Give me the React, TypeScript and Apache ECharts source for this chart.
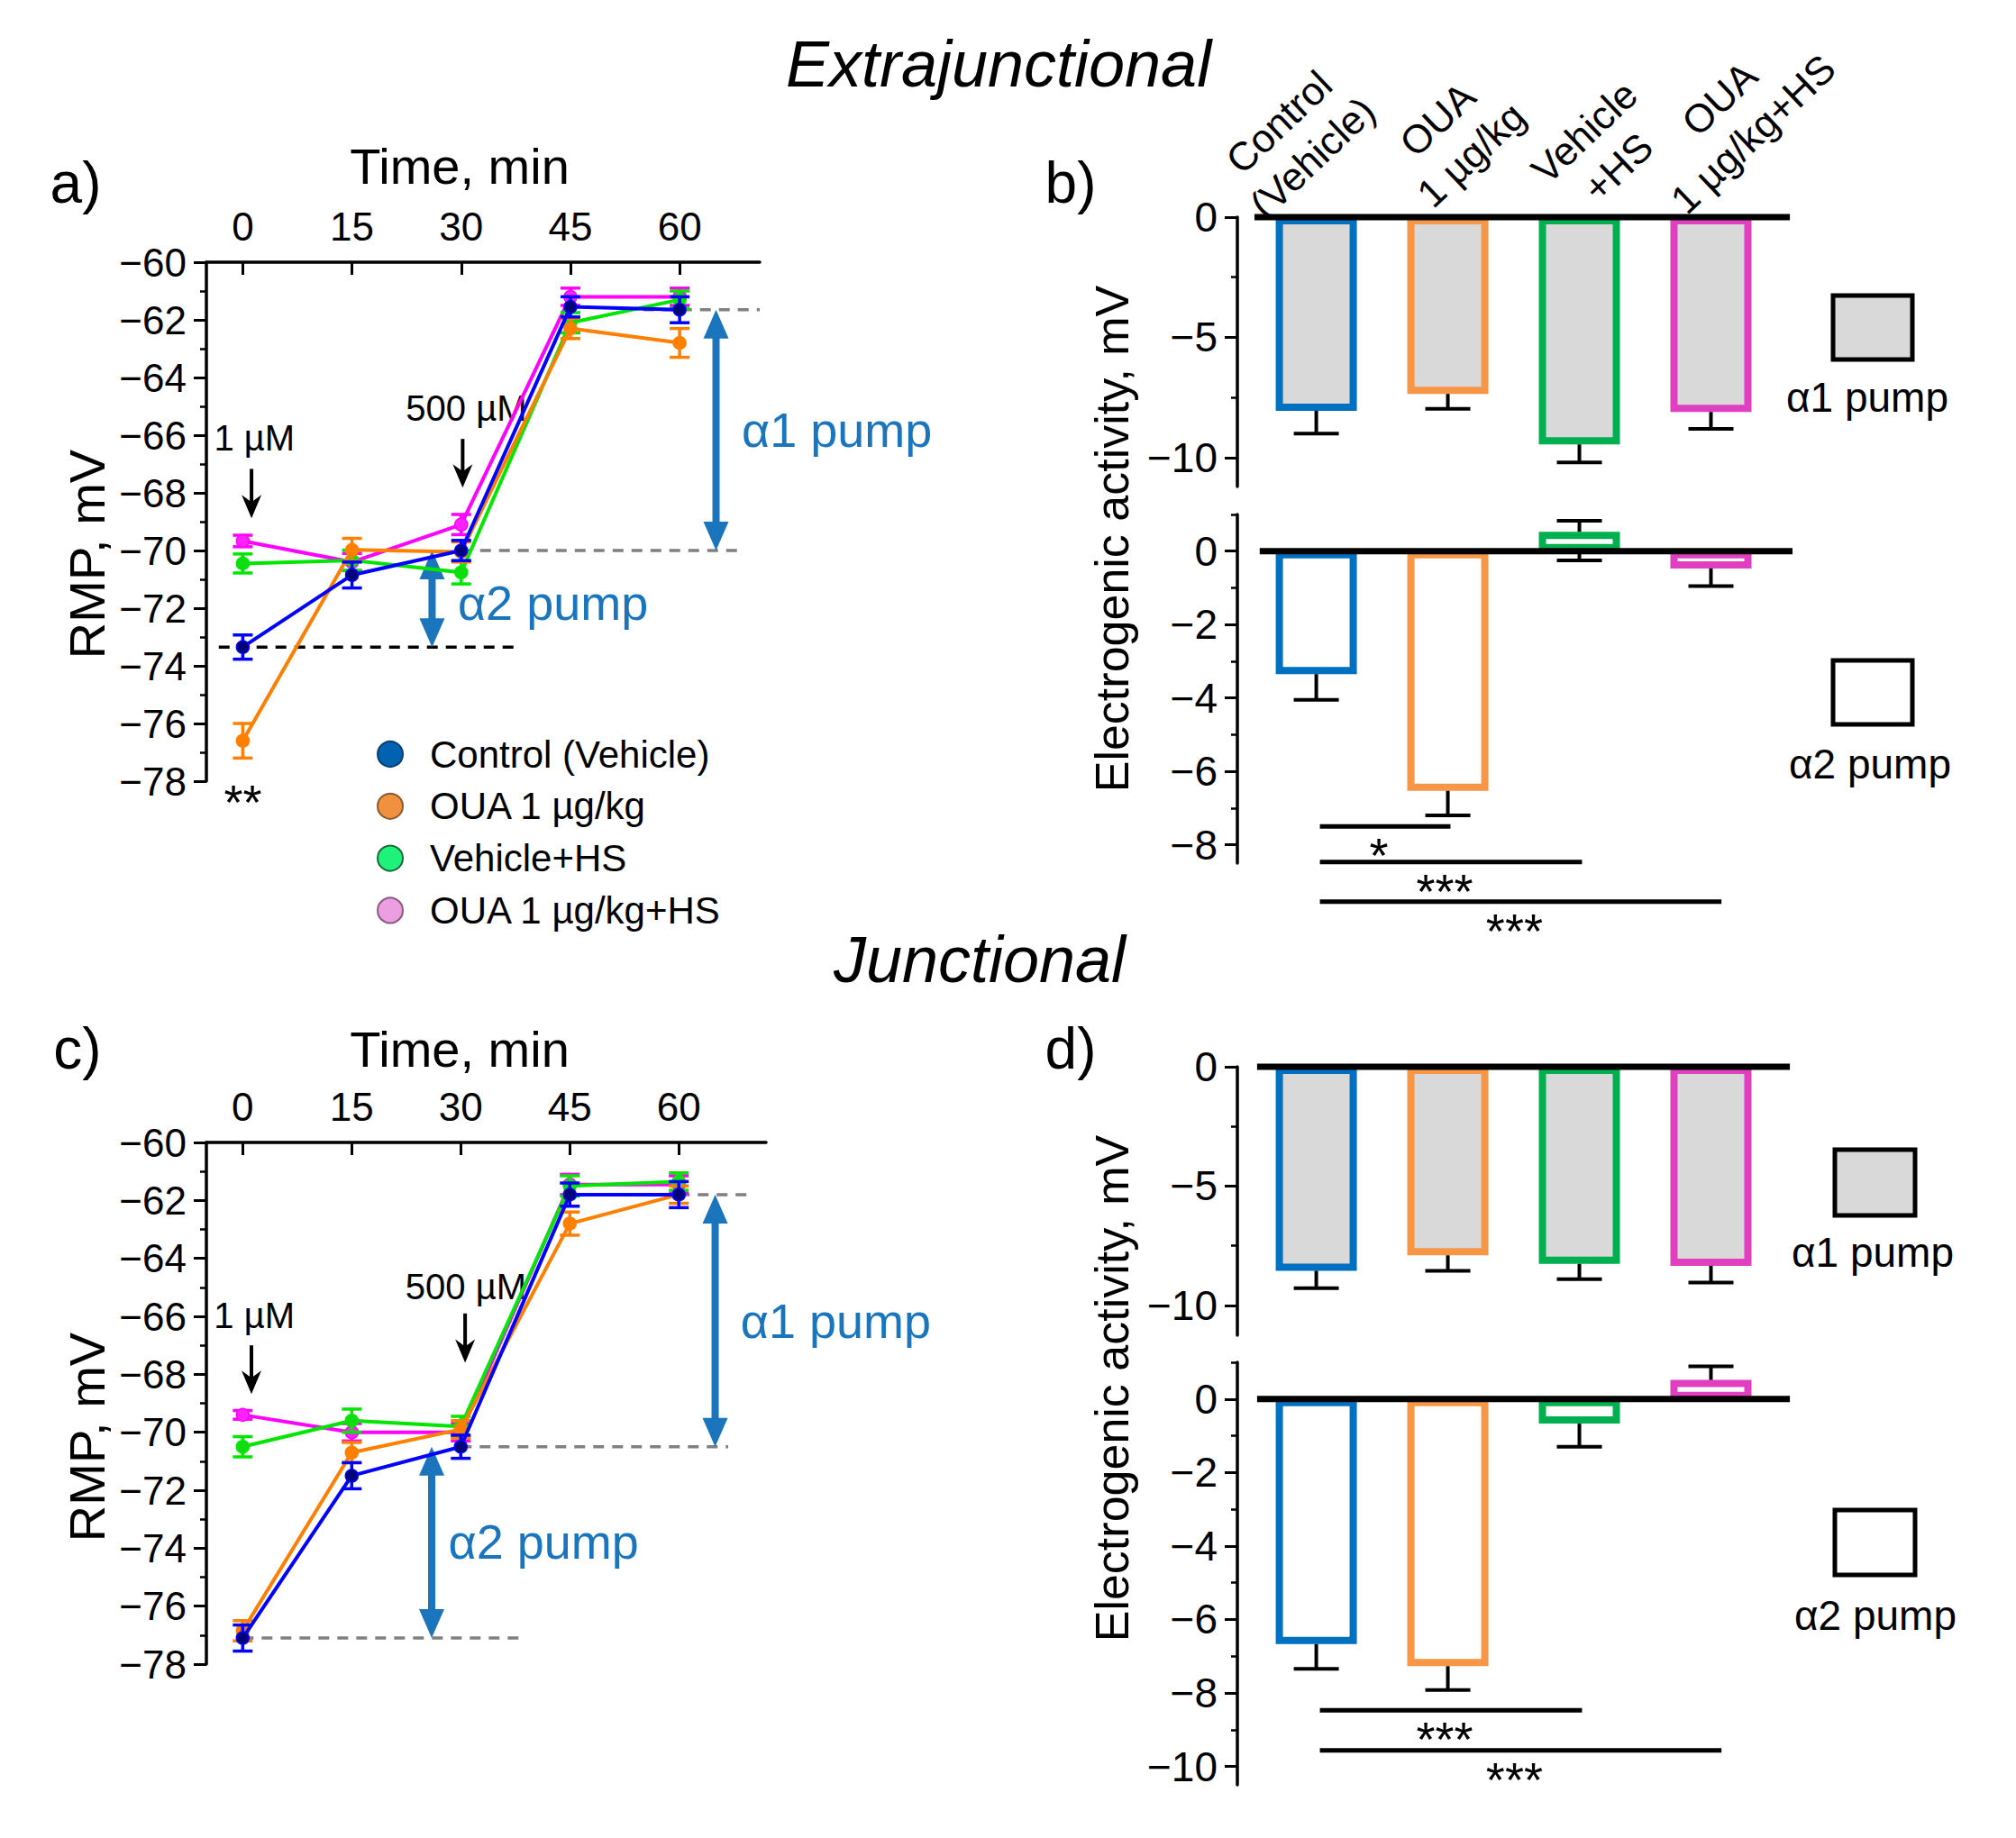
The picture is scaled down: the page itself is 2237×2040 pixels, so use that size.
import React, { useEffect, useRef } from 'react';
import * as echarts from 'echarts';

const FONT = 'Liberation Sans, Arial, Helvetica, sans-serif';

// ---------- data ----------
const TIMES = [0, 15, 30, 45, 60];
const GROUPS = ['Control (Vehicle)', 'OUA 1 \u00b5g/kg', 'Vehicle+HS', 'OUA 1 \u00b5g/kg+HS'];
const BAR_LABELS = ['Control\n(Vehicle)', 'OUA\n1 \u00b5g/kg', 'Vehicle\n+HS', 'OUA\n1 \u00b5g/kg+HS'];
const BAR_X = [0, 1, 2, 3];

// panel a (extrajunctional RMP, mV)
const A_CTRL = [-73.35, -70.85, -70.0, -61.55, -61.65];
const A_OUA = [-76.6, -69.98, -70.05, -62.3, -62.8];
const A_VEH_HS = [-70.45, -70.34, -70.76, -62.1, -61.3];
const A_OUA_HS = [-69.67, -70.4, -69.1, -61.2, -61.2];
const A_CTRL_SEM = [0.42, 0.45, 0.35, 0.35, 0.45];
const A_OUA_SEM = [0.6, 0.4, 0.35, 0.35, 0.5];
const A_VEH_HS_SEM = [0.33, 0.35, 0.4, 0.35, 0.3];
const A_OUA_HS_SEM = [0.2, 0.3, 0.35, 0.3, 0.3];

// panel c (junctional RMP, mV)
const C_CTRL = [-77.1, -71.5, -70.5, -61.8, -61.8];
const C_OUA = [-76.85, -70.7, -69.9, -62.8, -61.8];
const C_VEH_HS = [-70.5, -69.6, -69.8, -61.5, -61.35];
const C_OUA_HS = [-69.4, -70.0, -70.0, -61.45, -61.45];
const C_CTRL_SEM = [0.45, 0.45, 0.4, 0.4, 0.45];
const C_OUA_SEM = [0.35, 0.35, 0.3, 0.4, 0.3];
const C_VEH_HS_SEM = [0.35, 0.4, 0.35, 0.35, 0.3];
const C_OUA_HS_SEM = [0.15, 0.3, 0.3, 0.35, 0.3];

// panel b (extrajunctional electrogenic activity, mV)
const B_ALPHA1 = [-8.05, -7.35, -9.45, -8.1];
const B_ALPHA1_ERR = [[-9.0], [-7.97], [-10.2], [-8.8]];
const B_ALPHA2 = [-3.35, -6.53, 0.53, -0.47];
const B_ALPHA2_ERR = [[-4.05], [-7.2], [0.83, -0.25], [-0.95]];
const B_SIG = [[0, 1, '*'], [0, 2, '***'], [0, 3, '***']];

// panel d (junctional electrogenic activity, mV)
const D_ALPHA1 = [-8.55, -7.9, -8.26, -8.34];
const D_ALPHA1_ERR = [[-9.28], [-8.55], [-8.9], [-9.04]];
const D_ALPHA2 = [-6.67, -7.27, -0.67, 0.52];
const D_ALPHA2_ERR = [[-7.34], [-7.92], [-1.3], [0.89]];
const D_SIG = [[0, 2, '***'], [0, 3, '***']];

// tick values
const LINE_Y_TICKS = { min: -78, max: -60, interval: 2 };
const B1_TICKS = [0, -5, -10];
const B1_MINOR = [-2.5, -7.5];
const B2_TICKS = [0, -2, -4, -6, -8];
const B2_MINOR = [1, -1, -3, -5, -7];
const D2_TICKS = [0, -2, -4, -6, -8, -10];
const D2_MINOR = [1, -1, -3, -5, -7, -9];

// ---------- styles / layout ----------
const LINE_COLORS = ['#0000ff', '#ff8000', '#00e600', '#ff00ff'];
const MARKER_COLORS = ['#00007a', '#ff8000', '#10dd10', '#ff22ff'];
const LEGEND_COLORS = ['#0063b1', '#f0913f', '#1ef27a', '#eb9fe0'];
const LEGEND_STROKES = ['#00406e', '#8a5a30', '#1a6a3a', '#8a5a80'];
const BAR_COLORS = ['#0070c0', '#f79646', '#00b050', '#e040c0'];
const ALPHA_BLUE = '#1a75bc';
const SIG_LEVELS_B = [-7.5, -8.47, -9.55];
const SIG_LEVELS_D = [-8.47, -9.56];
const LABEL_OFFSETS = [[-23, -86], [7, -89], [24, -75], [28, -112]];

const minus = (v: any) => String(v).replace('-', '\u2212');

function lineYAxis(gridIndex: number) {
  return {
    type: 'value', gridIndex, min: LINE_Y_TICKS.min, max: LINE_Y_TICKS.max, interval: LINE_Y_TICKS.interval,
    axisLine: { show: true, onZero: false, lineStyle: { color: '#000', width: 3.5 } },
    axisTick: { show: true, length: 14, lineStyle: { color: '#000', width: 3 } },
    minorTick: { show: true, splitNumber: 2, length: 7, lineStyle: { color: '#000', width: 2.5 } },
    axisLabel: { fontSize: 44, color: '#000', margin: 22, fontFamily: FONT, formatter: minus, showMinLabel: true, showMaxLabel: true },
    splitLine: { show: false }, minorSplitLine: { show: false },
  };
}
function lineXAxis(gridIndex: number, max: number) {
  return {
    type: 'value', gridIndex, position: 'top', min: -5, max,
    axisLine: { show: true, onZero: false, lineStyle: { color: '#000', width: 3.5 } },
    axisTick: { show: true, inside: true, length: 14, customValues: TIMES, lineStyle: { color: '#000', width: 3 } },
    axisLabel: { fontSize: 44, color: '#000', margin: 18, fontFamily: FONT, customValues: TIMES },
    splitLine: { show: false },
  };
}
function barXAxis(gridIndex: number) {
  return { type: 'value', gridIndex, min: -0.6, max: 3.62, show: false, splitLine: { show: false } };
}
function barYAxis(gridIndex: number, min: number, max: number, ticks: number[]) {
  return {
    type: 'value', gridIndex, min, max, position: 'left',
    axisLine: { show: true, onZero: false, lineStyle: { color: '#000', width: 3.5 } },
    axisTick: { show: true, length: 14, customValues: ticks, lineStyle: { color: '#000', width: 3 } },
    axisLabel: { fontSize: 46, color: '#000', margin: 22, fontFamily: FONT, formatter: minus, customValues: ticks },
    splitLine: { show: false },
  };
}
function barMinorAxis(gridIndex: number, min: number, max: number, ticks: number[]) {
  return {
    type: 'value', gridIndex, min, max, position: 'left', offset: 0,
    axisLine: { show: false, onZero: false },
    axisTick: { show: true, length: 7, customValues: ticks, lineStyle: { color: '#000', width: 2.5 } },
    axisLabel: { show: false },
    splitLine: { show: false },
  };
}

function lineSeries(ax: number, name: string, means: number[], gi: number, z: number) {
  return {
    type: 'line', name, xAxisIndex: ax, yAxisIndex: ax,
    data: TIMES.map((t, i) => [t, means[i]]),
    symbol: 'circle', symbolSize: 14,
    lineStyle: { color: LINE_COLORS[gi], width: 4 },
    itemStyle: { color: MARKER_COLORS[gi], borderColor: LINE_COLORS[gi], borderWidth: 1.5 },
    z, silent: true,
  };
}
function lineErrSeries(ax: number, means: number[], sems: number[], gi: number, z: number) {
  const color = LINE_COLORS[gi];
  return {
    type: 'custom', xAxisIndex: ax, yAxisIndex: ax, z, silent: true, clip: false,
    encode: { x: 0, y: 1 },
    data: TIMES.map((t, i) => [t, means[i], sems[i]]),
    renderItem: (params: any, api: any) => {
      const x = api.value(0), m = api.value(1), s = api.value(2);
      const a = api.coord([x, m + s]);
      const b = api.coord([x, m - s]);
      const hw = 11;
      const st = { stroke: color, lineWidth: 3.5 };
      return {
        type: 'group', children: [
          { type: 'line', shape: { x1: a[0], y1: a[1], x2: b[0], y2: b[1] }, style: st },
          { type: 'line', shape: { x1: a[0] - hw, y1: a[1], x2: a[0] + hw, y2: a[1] }, style: st },
          { type: 'line', shape: { x1: b[0] - hw, y1: b[1], x2: b[0] + hw, y2: b[1] }, style: st },
        ],
      };
    },
  };
}

function annotationSeries(ax: number, spec: any) {
  return {
    type: 'custom', xAxisIndex: ax, yAxisIndex: ax, z: 1, silent: true, clip: false,
    encode: { x: 0, y: 1 },
    data: [[0, -70]],
    renderItem: (params: any, api: any) => {
      const c = (x: number, y: number) => api.coord([x, y]);
      const ch: any[] = [];
      spec.dashes.forEach(([y, x1, x2, col]: any) => {
        const p = c(x1, y), q = c(x2, y);
        ch.push({ type: 'line', shape: { x1: p[0], y1: p[1], x2: q[0], y2: q[1] }, style: { stroke: col, lineWidth: 3.5, lineDash: [12, 9] } });
      });
      spec.dbl.forEach(([x, y1, y2]: any) => {
        const p = c(x, y1), q = c(x, y2);
        const L = 32, W = 14;
        ch.push({ type: 'line', shape: { x1: p[0], y1: p[1] + L - 4, x2: q[0], y2: q[1] - L + 4 }, style: { stroke: ALPHA_BLUE, lineWidth: 8 } });
        ch.push({ type: 'polygon', shape: { points: [[p[0], p[1]], [p[0] - W, p[1] + L], [p[0] + W, p[1] + L]] }, style: { fill: ALPHA_BLUE } });
        ch.push({ type: 'polygon', shape: { points: [[q[0], q[1]], [q[0] - W, q[1] - L], [q[0] + W, q[1] - L]] }, style: { fill: ALPHA_BLUE } });
      });
      spec.down.forEach(([x, y1, y2]: any) => {
        const p = c(x, y1), q = c(x, y2);
        ch.push({ type: 'line', shape: { x1: p[0], y1: p[1], x2: q[0], y2: q[1] - 16 }, style: { stroke: '#000', lineWidth: 4 } });
        ch.push({ type: 'polygon', shape: { points: [[q[0], q[1]], [q[0] - 11, q[1] - 26], [q[0], q[1] - 18], [q[0] + 11, q[1] - 26]] }, style: { fill: '#000' } });
      });
      spec.texts.forEach(([t, x, y, fs, col]: any) => {
        const p = c(x, y);
        ch.push({ type: 'text', x: p[0], y: p[1], style: { text: t, fill: col, fontSize: fs, fontFamily: FONT, align: 'center', verticalAlign: 'middle' } });
      });
      return { type: 'group', children: ch };
    },
  };
}

function barSeries(ax: number, means: number[], fill: string) {
  return {
    type: 'bar', xAxisIndex: ax, yAxisIndex: ax, barWidth: 90, z: 2, silent: true,
    data: means.map((v, i) => ({ value: [BAR_X[i], v], itemStyle: { color: fill, borderColor: BAR_COLORS[i], borderWidth: 8 } })),
  };
}
function barErrSeries(ax: number, means: number[], tips: number[][]) {
  const data: number[][] = [];
  tips.forEach((arr, i) => arr.forEach((t) => data.push([BAR_X[i], means[i], t])));
  return {
    type: 'custom', xAxisIndex: ax, yAxisIndex: ax, z: 3, silent: true, clip: false,
    encode: { x: 0, y: 2 },
    data,
    renderItem: (params: any, api: any) => {
      const x = api.value(0), m = api.value(1), t = api.value(2);
      const start = (t * m > 0 && Math.abs(t) > Math.abs(m)) ? m : 0;
      const a = api.coord([x, start]), b = api.coord([x, t]);
      const st = { stroke: '#000', lineWidth: 4 };
      return {
        type: 'group', children: [
          { type: 'line', shape: { x1: a[0], y1: a[1], x2: b[0], y2: b[1] }, style: st },
          { type: 'line', shape: { x1: b[0] - 25, y1: b[1], x2: b[0] + 25, y2: b[1] }, style: st },
        ],
      };
    },
  };
}
function zeroLineSeries(ax: number, x1: number, x2: number) {
  return {
    type: 'custom', xAxisIndex: ax, yAxisIndex: ax, z: 4, silent: true, clip: false,
    encode: { x: 0, y: 1 },
    data: [[x1, 0, x2]],
    renderItem: (params: any, api: any) => {
      const a = api.coord([api.value(0), 0]), b = api.coord([api.value(2), 0]);
      return { type: 'line', shape: { x1: a[0], y1: a[1], x2: b[0], y2: b[1] }, style: { stroke: '#000', lineWidth: 7 } };
    },
  };
}
function sigSeries(ax: number, sig: any[], levels: number[]) {
  return {
    type: 'custom', xAxisIndex: ax, yAxisIndex: ax, z: 4, silent: true, clip: false,
    encode: { x: 0, y: 2 },
    data: sig.map((s, i) => [s[0], s[1], levels[i], i]),
    renderItem: (params: any, api: any) => {
      const x1 = api.value(0), x2 = api.value(1), y = api.value(2), i = api.value(3);
      const a = api.coord([x1, y]), b = api.coord([x2 + (x2 === 3 ? 0.08 : 0.02), y]);
      return {
        type: 'group', children: [
          { type: 'line', shape: { x1: a[0] + 4, y1: a[1], x2: b[0], y2: b[1] }, style: { stroke: '#000', lineWidth: 5 } },
          { type: 'text', x: (a[0] + b[0]) / 2 - 5, y: a[1] + 5, style: { text: sig[i][2], fill: '#000', fontSize: 54, fontFamily: FONT, align: 'center', verticalAlign: 'top' } },
        ],
      };
    },
  };
}
function catLabelSeries(ax: number) {
  return {
    type: 'custom', xAxisIndex: ax, yAxisIndex: ax, z: 4, silent: true, clip: false,
    encode: { x: 0, y: 1 },
    data: BAR_X.map((x) => [x, 0]),
    renderItem: (params: any, api: any) => {
      const i = params.dataIndex;
      const p = api.coord([api.value(0), 0]);
      return {
        type: 'text', x: p[0] + LABEL_OFFSETS[i][0], y: p[1] + LABEL_OFFSETS[i][1], rotation: 0.76,
        style: { text: BAR_LABELS[i], fill: '#000', fontSize: 44, lineHeight: 54, fontFamily: FONT, align: 'center', verticalAlign: 'middle' },
      };
    },
  };
}

function txt(text: string, x: number, y: number, fontSize: number, extra: any = {}, rotation = 0) {
  return { type: 'text', x, y, rotation, silent: true, style: { text, fill: '#000', fontSize, fontFamily: FONT, align: 'center', verticalAlign: 'middle', ...extra } };
}

function buildOption() {
  const aSeries = [A_OUA_HS, A_VEH_HS, A_OUA, A_CTRL];
  const aSem = [A_OUA_HS_SEM, A_VEH_HS_SEM, A_OUA_SEM, A_CTRL_SEM];
  const cSeries = [C_OUA_HS, C_VEH_HS, C_OUA, C_CTRL];
  const cSem = [C_OUA_HS_SEM, C_VEH_HS_SEM, C_OUA_SEM, C_CTRL_SEM];
  const order = [3, 2, 1, 0];

  const series: any[] = [];
  order.forEach((gi, k) => {
    series.push(lineSeries(0, GROUPS[gi], aSeries[k], gi, 2 + k));
    series.push(lineErrSeries(0, aSeries[k], aSem[k], gi, 2 + k));
    series.push(lineSeries(1, GROUPS[gi], cSeries[k], gi, 2 + k));
    series.push(lineErrSeries(1, cSeries[k], cSem[k], gi, 2 + k));
  });

  series.push(annotationSeries(0, {
    dashes: [[A_CTRL[4], 55, 71, '#808080'], [A_CTRL[2], 30, 68, '#808080'], [A_CTRL[0], -3.3, 38, '#000']],
    dbl: [[65, A_CTRL[4], A_CTRL[2]], [26, A_CTRL[2], A_CTRL[0]]],
    down: [[1.2, -67.17, -68.88], [30.2, -66.13, -67.82]],
    texts: [['1 \u00b5M', 1.6, -66.1, 40, '#000'], ['500 \u00b5M', 30.7, -65.07, 40, '#000'],
      ['\u03b11 pump', 81.6, -65.82, 54, ALPHA_BLUE], ['\u03b12 pump', 42.6, -71.82, 54, ALPHA_BLUE], ['**', 0, -78.72, 54, '#000']],
  }));
  series.push(annotationSeries(1, {
    dashes: [[C_CTRL[4], 60, 70, '#808080'], [C_CTRL[2], 30, 66.8, '#808080'], [C_CTRL[0], 0, 38, '#808080']],
    dbl: [[65, C_CTRL[4], C_CTRL[2]], [26, C_CTRL[2], C_CTRL[0]]],
    down: [[1.2, -67.0, -68.68], [30.6, -65.9, -67.6]],
    texts: [['1 \u00b5M', 1.6, -65.98, 40, '#000'], ['500 \u00b5M', 30.7, -64.98, 40, '#000'],
      ['\u03b11 pump', 81.6, -66.16, 54, ALPHA_BLUE], ['\u03b12 pump', 41.4, -73.78, 54, ALPHA_BLUE]],
  }));

  series.push(barSeries(2, B_ALPHA1, '#d9d9d9'));
  series.push(barErrSeries(2, B_ALPHA1, B_ALPHA1_ERR));
  series.push(zeroLineSeries(2, -0.47, 3.6));
  series.push(catLabelSeries(2));
  series.push(barSeries(3, B_ALPHA2, '#ffffff'));
  series.push(barErrSeries(3, B_ALPHA2, B_ALPHA2_ERR));
  series.push(zeroLineSeries(3, -0.43, 3.62));
  series.push(sigSeries(3, B_SIG, SIG_LEVELS_B));
  series.push(barSeries(4, D_ALPHA1, '#d9d9d9'));
  series.push(barErrSeries(4, D_ALPHA1, D_ALPHA1_ERR));
  series.push(zeroLineSeries(4, -0.45, 3.6));
  series.push(barSeries(5, D_ALPHA2, '#ffffff'));
  series.push(barErrSeries(5, D_ALPHA2, D_ALPHA2_ERR));
  series.push(zeroLineSeries(5, -0.45, 3.6));
  series.push(sigSeries(5, D_SIG, SIG_LEVELS_D));

  const legendRows = GROUPS.map((g, i) => {
    const y = 837 + i * 57.8;
    return [
      { type: 'circle', shape: { cx: 433, cy: y, r: 14 }, silent: true, style: { fill: LEGEND_COLORS[i], stroke: LEGEND_STROKES[i], lineWidth: 2 } },
      { type: 'text', x: 477, y, silent: true, style: { text: g, fill: '#000', fontSize: 42, fontFamily: FONT, align: 'left', verticalAlign: 'middle' } },
    ];
  }).flat();

  const graphic: any[] = [
    txt('Extrajunctional', 1108, 71, 72, { fontStyle: 'italic' }),
    txt('Junctional', 1087, 1065, 72, { fontStyle: 'italic' }),
    txt('a)', 84, 203, 64), txt('b)', 1188, 203, 64), txt('c)', 86, 1164, 64), txt('d)', 1188, 1164, 64),
    txt('Time, min', 510, 184, 56), txt('Time, min', 510, 1164, 56),
    txt('RMP, mV', 96, 615, 56, {}, Math.PI / 2), txt('RMP, mV', 96, 1595, 56, {}, Math.PI / 2),
    txt('Electrogenic activity, mV', 1234, 598, 52, {}, Math.PI / 2),
    txt('Electrogenic activity, mV', 1234, 1541, 52, {}, Math.PI / 2),
    { type: 'rect', silent: true, shape: { x: 2034, y: 328, width: 88, height: 71 }, style: { fill: '#d9d9d9', stroke: '#000', lineWidth: 5 } },
    txt('\u03b11 pump', 2072, 441, 46),
    { type: 'rect', silent: true, shape: { x: 2034, y: 733, width: 88, height: 71 }, style: { fill: '#fff', stroke: '#000', lineWidth: 5 } },
    txt('\u03b12 pump', 2075, 848, 46),
    { type: 'rect', silent: true, shape: { x: 2036, y: 1276, width: 89, height: 73 }, style: { fill: '#d9d9d9', stroke: '#000', lineWidth: 5 } },
    txt('\u03b11 pump', 2078, 1390, 46),
    { type: 'rect', silent: true, shape: { x: 2036, y: 1676, width: 89, height: 72 }, style: { fill: '#fff', stroke: '#000', lineWidth: 5 } },
    txt('\u03b12 pump', 2081, 1793, 46),
    ...legendRows,
  ];

  return {
    animation: false,
    backgroundColor: '#fff',
    textStyle: { fontFamily: FONT },
    grid: [
      { left: 229, top: 291, width: 614, height: 576 },
      { left: 229, top: 1268, width: 621, height: 579 },
      { left: 1373, top: 241, width: 616, height: 299 },
      { left: 1373, top: 571, width: 616, height: 387 },
      { left: 1373, top: 1184, width: 616, height: 298 },
      { left: 1373, top: 1512, width: 616, height: 469 },
    ],
    xAxis: [lineXAxis(0, 71), lineXAxis(1, 72), barXAxis(2), barXAxis(3), barXAxis(4), barXAxis(5)],
    yAxis: [
      lineYAxis(0), lineYAxis(1),
      barYAxis(2, -11.2, 0, B1_TICKS), barYAxis(3, -8.5, 1, B2_TICKS),
      barYAxis(4, -11.25, 0, B1_TICKS), barYAxis(5, -10.5, 1, D2_TICKS),
      barMinorAxis(2, -11.2, 0, B1_MINOR), barMinorAxis(3, -8.5, 1, B2_MINOR),
      barMinorAxis(4, -11.25, 0, B1_MINOR), barMinorAxis(5, -10.5, 1, D2_MINOR),
    ],
    series,
    graphic,
  };
}

export default function App() {
  const ref = useRef<HTMLDivElement>(null);
  useEffect(() => {
    if (!ref.current) return;
    const chart = echarts.init(ref.current, null, { renderer: 'svg' });
    chart.setOption(buildOption() as any);
    return () => chart.dispose();
  }, []);
  return <div ref={ref} style={{ position: 'absolute', left: 0, top: 0, width: 2237, height: 2040, background: '#fff' }} />;
}
